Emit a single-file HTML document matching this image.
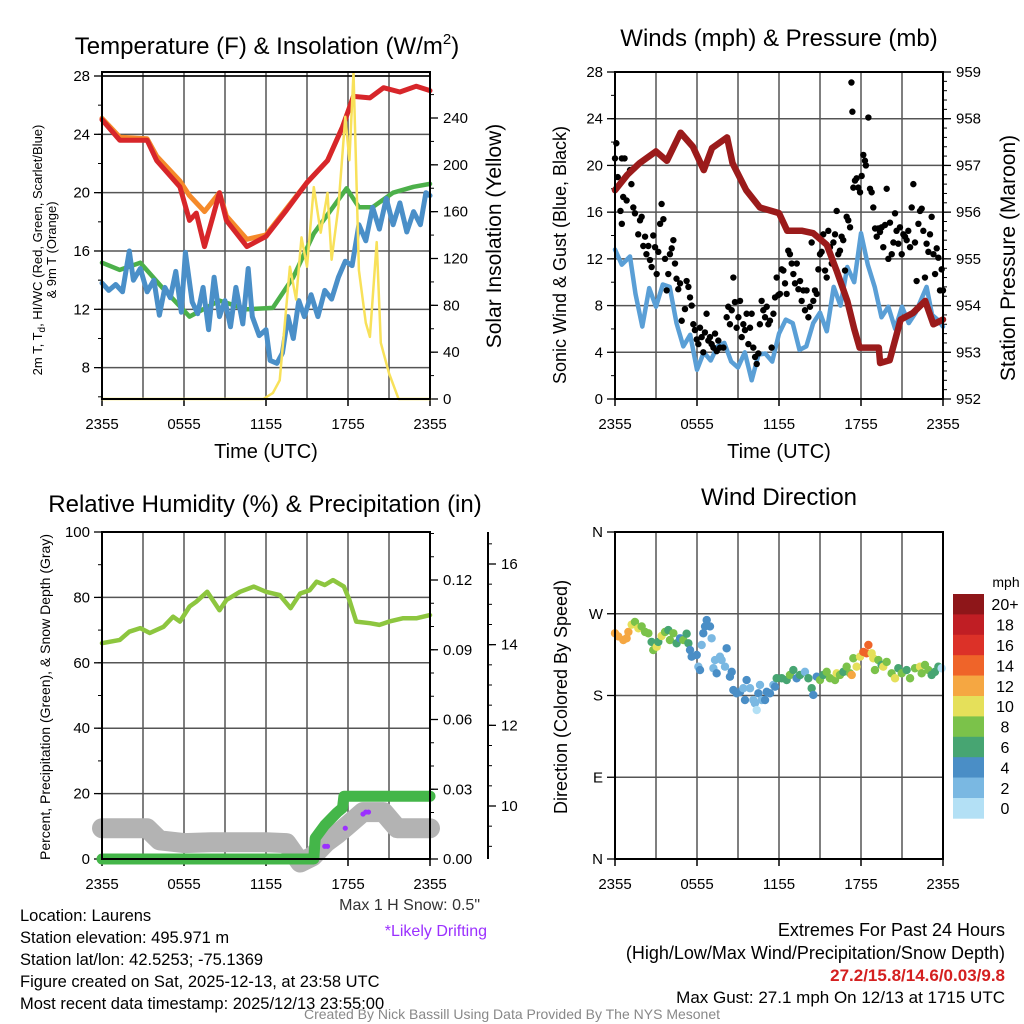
<!DOCTYPE html>
<html><head><meta charset="utf-8"><style>
body{margin:0;background:#fff;}
svg{display:block;font-family:"Liberation Sans",sans-serif;}
</style></head><body>
<svg id="chart" width="1024" height="1024" viewBox="0 0 1024 1024" xmlns="http://www.w3.org/2000/svg">
<rect x="0" y="0" width="1024" height="1024" fill="#fff"/>
<g id="layer"></g>
<text x="267" y="54" font-size="24" text-anchor="middle">Temperature (F) &amp; Insolation (W/m<tspan font-size="15" dy="-10">2</tspan><tspan dy="10">)</tspan></text>
<text x="779" y="46" font-size="24" text-anchor="middle">Winds (mph) &amp; Pressure (mb)</text>
<text x="265" y="512" font-size="24" text-anchor="middle">Relative Humidity (%) &amp; Precipitation (in)</text>
<text x="779" y="505" font-size="24" text-anchor="middle">Wind Direction</text>
<text x="266" y="458" font-size="20" text-anchor="middle">Time (UTC)</text>
<text x="779" y="458" font-size="20" text-anchor="middle">Time (UTC)</text>
<text transform="translate(42,250) rotate(-90)" font-size="13" text-anchor="middle">2m T, T<tspan font-size="10" dy="3">d</tspan><tspan dy="-3">, HI/WC (Red, Green, Scarlet/Blue)</tspan></text>
<text transform="translate(56,250) rotate(-90)" font-size="13" text-anchor="middle">&amp; 9m T (Orange)</text>
<text transform="translate(501,236) rotate(-90)" font-size="21" text-anchor="middle">Solar Insolation (Yellow)</text>
<text transform="translate(566,255) rotate(-90)" font-size="18" text-anchor="middle">Sonic Wind &amp; Gust (Blue, Black)</text>
<text transform="translate(1015,258) rotate(-90)" font-size="21" text-anchor="middle">Station Pressure (Maroon)</text>
<text transform="translate(50,697) rotate(-90)" font-size="14" text-anchor="middle">Percent, Precipitation (Green), &amp; Snow Depth (Gray)</text>
<text transform="translate(567,697) rotate(-90)" font-size="18" text-anchor="middle">Direction (Colored By Speed)</text>
<text x="1006" y="587" font-size="14" text-anchor="middle">mph</text>
<g font-size="16.5">
<text x="20" y="921">Location: Laurens</text>
<text x="20" y="943">Station elevation: 495.971 m</text>
<text x="20" y="965">Station lat/lon: 42.5253; -75.1369</text>
<text x="20" y="987">Figure created on Sat, 2025-12-13, at 23:58 UTC</text>
<text x="20" y="1009">Most recent data timestamp: 2025/12/13 23:55:00</text>
</g>
<text x="480" y="910" font-size="16" text-anchor="end" fill="#333">Max 1 H Snow: 0.5"</text>
<text x="487" y="936" font-size="16" text-anchor="end" fill="#9b30ff">*Likely Drifting</text>
<g font-size="18" text-anchor="end">
<text x="1005" y="936">Extremes For Past 24 Hours</text>
<text x="1005" y="959">(High/Low/Max Wind/Precipitation/Snow Depth)</text>
<text x="1005" y="981" fill="#d42020" font-weight="bold" font-size="17">27.2/15.8/14.6/0.03/9.8</text>
<text x="1005" y="1003" font-size="17">Max Gust: 27.1 mph On 12/13 at 1715 UTC</text>
</g>
<text x="512" y="1019" font-size="14" text-anchor="middle" fill="#888">Created By Nick Bassill Using Data Provided By The NYS Mesonet</text>
</svg>
<script>
// ---------- DATA ----------
const timeLabels=["2355","0555","1155","1755","2355"];
const tempTicks=[8,12,16,20,24,28];
const insolTicks=[0,40,80,120,160,200,240];
const windTicks=[0,4,8,12,16,20,24,28];
const presTicks=[952,953,954,955,956,957,958,959];
const rhTicks=[0,20,40,60,80,100];
const precipTicks=[0,0.03,0.06,0.09,0.12];
const precipLabels=["0.00","0.03","0.06","0.09","0.12"];
const snowTicks=[10,12,14,16];
const dirLabels=["N","E","S","W","N"];
const dirTicks=[0,90,180,270,360];
const speedBins=[0,2,4,6,8,10,12,14,16,18,20];
const speedLabels=["0","2","4","6","8","10","12","14","16","18","20+"];
const speedColors=["#b3e0f5","#7ab8e2","#4a8ec6","#47a572","#7bc24a","#e5e05a","#f5a742","#ef6429","#dc3128","#c01e24","#8e1619"];

const redT=[0,1.3,3.3,4,5.7,6.4,6.9,7.5,8.1,8.6,9.1,10.6,12,13.5,15,16.5,17.6,18.4,19.6,20.6,21.8,23,24];
const redV=[25,23.6,23.6,22.2,20.4,18.1,18.6,16.3,18.3,20,18.1,16.3,17,18.8,20.7,22.2,24.5,26.6,26.5,27.2,26.9,27.3,27];
const orangeT=[0,1.3,3.3,4,5.7,6.4,7.5,8.6,9.1,10.6,12,13.5,15,16.5,17.6,18.4];
const orangeV=[25.1,23.8,23.7,22.5,20.8,19.8,18.7,20,18.4,16.8,17.1,18.9,20.7,22.2,24.5,26.6];
const greenT=[0,1.3,2.8,4.4,6.4,8.6,10.6,12.5,14,15.5,16.9,17.9,18.8,19.8,21.3,22.8,24];
const greenV=[15.2,14.7,15.2,13.5,11.5,12.6,12,12.1,14.2,17.2,19,20.3,19,19,20,20.4,20.6];
const blueT=[0,0.5,1,1.5,2,2.3,2.8,3.3,3.8,4.2,4.6,5,5.4,5.8,6.1,6.6,7,7.4,7.8,8.2,8.6,9,9.4,9.8,10.3,10.7,11,11.5,12,12.3,12.8,13.2,13.6,14,14.4,14.8,15.3,15.8,16.3,16.8,17.3,17.8,18.3,18.8,19.3,19.8,20.3,20.8,21.3,21.8,22.3,22.8,23.3,23.7,24];
const blueV=[13.8,13.3,13.7,13.2,16,14,14.8,13.2,14,11.6,13.5,12.8,14.6,11.8,15.9,12.5,11.7,13.5,10.6,14.2,11.5,12.6,10.8,13.5,11,14.8,11.5,10.2,10.6,8.5,8.3,9,11.5,10,12.6,11.5,13,11.5,13.3,12.7,14.2,15.3,15,17.8,16.7,19,17.5,19.6,17.8,19.3,17.3,18.7,17.8,20,19.8];
const solarT=[0,11.8,12.5,13,13.75,14.2,14.6,15,15.5,16,16.5,16.8,17.3,17.8,18.1,18.4,18.8,19.3,19.6,20.1,20.4,21,21.7,24];
const solarV=[0,0,5,16,113,85,138,113,181,142,176,119,164,241,204,279,110,65,53,134,48,22,0,0];

const sustT=[0,0.5,1.1,1.5,2,2.5,3,3.5,4,4.5,5,5.5,6,6.5,7,7.5,8,8.5,9,9.5,10,10.5,11,11.5,12,12.5,13,13.5,14,14.5,15,15.5,16,16.5,17,17.5,18,18.5,19,19.5,20,20.5,21,21.5,22,22.4,22.8,23.2,23.6,24];
const sustV=[12.8,11.5,12.2,9,6.2,9.5,7.9,9.8,9.6,6.5,4.5,5.5,2.5,4,3.3,4.5,4.8,3.2,2.7,4,1.6,3.8,3.9,3.2,5.6,6.8,6.5,4.2,4.5,6.5,7.4,5.8,9.6,8,11.3,10,14.2,11.5,9.6,7,7.9,6,7.9,6.5,7.4,8.5,9.6,7.2,6.8,6.2];
const presT=[0,0.9,1.8,3,3.8,4.8,5.7,6.5,7.1,8.2,8.6,9.6,10.6,12,12.6,13.7,14.5,15.5,16.2,17,17.5,17.9,19.3,19.4,20.1,20.9,21.8,22.7,23.3,24];
const presV=[956.47,956.8,957.05,957.3,957.1,957.7,957.4,956.9,957.37,957.6,957.05,956.47,956.1,955.98,955.6,955.6,955.55,955.3,954.76,954.1,953.5,953.1,953.1,952.77,952.83,953.7,953.84,954.1,953.6,953.7];
const gustT=[0,0.1,0.2,0.5,0.7,0.4,0.5,0.6,0.85,1.1,1.2,1.34,1.46,1.7,1.83,1.95,2.07,2.2,2.3,2.44,2.56,2.8,2.68,2.93,3.05,3.17,3.3,3.41,3.54,3.66,3.78,3.9,4.02,4.15,4.27,4.39,4.5,4.63,4.76,4.88,5.12,5.24,5.37,5.49,5.61,5.73,5.85,5.98,6.1,6.22,6.34,6.46,6.58,6.7,6.83,6.95,7.07,7.2,7.32,7.44,7.56,7.68,7.93,8.17,8.29,8.41,8.54,8.66,8.78,8.9,9.03,9.15,9.27,9.39,9.51,9.63,9.76,9.88,10,10.12,10.25,10.37,10.49,10.6,10.73,10.85,10.98,11.1,11.22,11.34,11.46,11.59,11.71,11.83,11.95,12.07,12.2,12.32,12.44,12.56,12.68,12.8,12.93,13.05,13.17,13.3,13.42,13.54,13.66,13.78,13.9,14.02,14.15,14.27,14.39,14.51,14.63,14.76,14.88,15,15.12,15.24,15.37,15.49,15.61,15.73,15.86,15.98,16.1,16.22,16.34,16.46,16.58,16.7,16.83,16.95,17.07,17.2,17.3,17.37,17.44,17.56,17.68,17.8,17.93,18.05,18.17,18.29,18.36,18.54,18.66,18.78,18.9,19.03,19.15,19.27,19.39,19.51,19.63,19.76,19.88,20,20.12,20.25,20.37,20.49,20.6,20.73,20.85,20.98,21.1,21.22,21.34,21.46,21.59,21.71,21.83,21.95,22.07,22.2,22.32,22.44,22.56,22.68,22.8,22.93,23.05,23.17,23.3,23.42,23.54,23.66,23.78,23.9,24];
const gustV=[20.6,21.9,19,20.6,20.6,16.1,15,17.3,17,19.6,18.4,16.4,15.9,14.1,15.3,15.6,13.1,13.9,12.4,13.1,11.9,14,11.3,13,10.7,12.6,15,16.7,15.4,12,9.3,10.7,12.4,12.9,13.6,11.6,10.3,9.4,9.9,6.7,7.7,10.1,9.6,8.7,8,6.4,5.9,5.1,4.7,6.1,5.3,4,5.7,7.3,5,5.3,4.7,4.4,5.6,4.1,5,4.4,4.4,7,7.9,6.4,7.6,10.4,8.3,6.1,7,8.4,5.3,6.4,5.9,7.3,4.7,6.1,7.3,4.4,3.6,3,3.9,6.4,8.4,7.6,7,7.9,6.4,6.7,4.4,7.3,8.7,10.4,8.9,9,11.1,11,9.9,9,12.7,12.4,11.6,10.7,9.9,11.6,9.4,10.1,8.4,9.3,7.6,9.3,7,7.9,13.4,8.4,9.3,9,11.1,12.4,12.6,14.1,11,10.4,14.4,13,11.6,13.4,14.1,16.1,12.4,12.7,13.9,13.6,11,15.6,15.3,14.7,27.1,24.6,18.1,18.7,18.9,18.1,17.7,19.1,20.9,20.4,20,24.1,18,17.7,16.4,14.6,13.9,14.6,14.3,14.7,13,14.9,18,12,15.1,12.4,13.4,15.9,14.4,13.3,14.7,12.4,14.1,13.9,13.6,14.4,13,16.4,18.4,13.4,10.1,15,16.1,16.3,14.4,10.4,13.3,12.6,14.1,15.6,12.4,10.7,12.9,12.1,9.3,11.1,9.3];

const rhT=[0,1.3,2,2.8,3.5,4.5,5.2,5.7,6.4,6.9,7.7,8.1,8.6,9.1,10.1,11.1,12,13,13.8,14.5,15.2,15.7,16.3,16.9,17.7,18.1,18.6,19.6,20.3,21,22,23,24];
const rhV=[66,67,69.5,70.6,69.1,71,74.1,72.6,77.2,78.7,81.7,79.2,76.1,79.2,81.7,83.3,81.7,80.7,76.7,81.2,82.2,84.8,83.8,85.3,83.3,79.2,72.6,72.1,71.6,72.6,73.6,73.6,74.6];
const precipT=[0,15.5,15.6,16.3,17.2,17.6,17.7,24];
const precipV=[0,0,0.009,0.0146,0.02,0.022,0.027,0.027];
const snowT=[0,3.3,4.2,6,8,10,12,13.5,14.5,15.4,16.4,17.2,17.9,19.1,20.6,21.6,24];
const snowV=[9.45,9.45,9.15,9.08,9.1,9.1,9.1,9.08,8.6,8.75,9.1,9.3,9.5,9.85,9.85,9.45,9.45];
const driftT=[16.3,16.5,17.8,19.1,19.3,19.5];
const driftV=[9.0,9.0,9.45,9.8,9.85,9.85];

const dirT=[0,0.24,0.61,0.85,0.98,1.22,1.46,1.71,1.95,2.2,2.44,2.68,2.8,3.05,3.17,3.41,3.66,3.9,4.02,4.27,4.51,4.76,5,5.24,5.37,5.49,5.61,5.98,6.1,6.22,6.34,6.46,6.59,6.71,6.95,7.07,7.2,7.32,7.44,7.68,7.8,8.05,8.17,8.41,8.54,8.66,8.9,9.15,9.39,9.51,9.63,9.88,10.12,10.24,10.37,10.49,10.61,10.73,10.98,11.1,11.34,11.59,11.71,11.83,12.2,12.56,12.8,13.05,13.29,13.54,13.9,14.15,14.39,14.51,14.76,15,15.24,15.49,15.73,16.1,16.22,16.46,16.71,16.95,17.2,17.32,17.44,17.68,17.93,18.17,18.41,18.54,18.78,18.9,19.02,19.27,19.51,19.63,19.88,20.24,20.49,20.73,20.98,21.34,21.59,21.95,22.32,22.44,22.68,22.93,23.17,23.41,23.66,23.9];
const dirD=[248.5,245,241,243,250,258,261,254,256,250,248.5,239,230,233.7,239,245.5,250,252,241,248.5,237.5,243,241,248,237.5,230,222.7,224.6,211.7,208,235.6,248.5,256,263,256,243,210,219,204.4,222.7,219,211.7,232,200.7,206,186,182.4,184,188,175,197,188,175,171.4,164,182.4,191.6,175,175,184,182.4,191.6,189.7,199,199,197,202.6,208,199,202.6,206,199,188,180.6,200.7,197,202.6,206,199,197,204.4,202.6,206,211.7,204.4,202.6,221,211.7,222.7,228,226.5,235.6,226.5,221,208,219,213.6,211.7,217,204.4,199,210,204.4,208,199,210,211.7,204.4,213.6,208,202.6,206,211.7,210];
const dirS=[12,12,12,12,12,10,8,10,8,8,8,6,8,10,6,10,8,6,8,8,6,4,8,6,6,4,4,4,2,4,2,4,4,4,4,2,2,2,4,2,2,2,4,4,4,4,4,4,2,4,4,2,2,2,0,4,2,2,4,4,4,2,4,6,6,6,8,6,4,6,2,6,6,4,4,8,6,8,8,8,10,8,6,8,8,12,8,10,10,14,14,14,10,10,8,8,6,10,8,8,10,6,8,6,8,8,10,8,8,8,6,6,6];

// ---------- HELPERS ----------
const NS="http://www.w3.org/2000/svg";
const layer=document.getElementById('layer');
function mk(tag,attrs,parent){const e=document.createElementNS(NS,tag);for(const k in attrs)e.setAttribute(k,attrs[k]);(parent||layer).appendChild(e);return e;}
function lin(d0,d1,r0,r1){return v=>r0+(v-d0)*(r1-r0)/(d1-d0);}
function pathOf(T,V,sx,sy){return T.map((t,i)=>(i?'L':'M')+sx(t).toFixed(1)+','+sy(V[i]).toFixed(1)).join('');}

const P1={x0:102,x1:430,y0:72,y1:399}, P2={x0:615,x1:943,y0:72,y1:399};
const P3={x0:102,x1:430,y0:532,y1:859}, P4={x0:615,x1:943,y0:532,y1:859};

function timeAxis(P,name){
  const sx=lin(0,24,P.x0,P.x1);
  for(let h=3;h<24;h+=3){
    const g=mk('line',{x1:sx(h),x2:sx(h),y1:P.y0,y2:P.y1,stroke:'#555','stroke-width':1.5});
    
    
  }
  timeLabels.forEach((lab,i)=>{
    const h=i*6;
    const t=mk('line',{x1:sx(h),x2:sx(h),y1:P.y1,y2:P.y1+7,stroke:'#000','stroke-width':1.5});
    
    
    const tx=mk('text',{x:sx(h),y:P.y1+30,'font-size':15,'text-anchor':'middle'});
    tx.textContent=lab;
    
    
  });
  return sx;
}
function yAxis(P,ticks,labels,sy,side,name,grid,minorStep,axisX,fs){
  const x=axisX!==undefined?axisX:(side==='left'?P.x0:P.x1);
  const dir=side==='left'?-1:1;
  ticks.forEach((v,i)=>{
    const y=sy(v);
    if(grid){
      const g=mk('line',{x1:P.x0,x2:P.x1,y1:y,y2:y,stroke:'#555','stroke-width':1.5});
      
      
    }
    const t=mk('line',{x1:x,x2:x+dir*8,y1:y,y2:y,stroke:'#000','stroke-width':1.3});
    
    
    const tx=mk('text',{x:side==='left'?x-12:x+13,y:y+5,'font-size':fs||15,'text-anchor':side==='left'?'end':'start'});
    tx.textContent=labels[i];
    
    
  });
  if(minorStep){
    const lo=Math.min(...ticks), hi=Math.max(...ticks);
    for(let v=lo-minorStep*4;v<=hi+minorStep*4+1e-9;v+=minorStep){
      const y=sy(v); if(y<P.y0-0.5||y>P.y1+0.5) continue;
      const m=mk('line',{x1:x,x2:x+dir*4,y1:y,y2:y,stroke:'#000','stroke-width':1});
      
      
    }
  }
}
function frame(P,name){
  const r=mk('rect',{x:P.x0,y:P.y0,width:P.x1-P.x0,height:P.y1-P.y0,fill:'none',stroke:'#000','stroke-width':2});
  
  
}
function line(T,V,sx,sy,color,w,name){
  const p=mk('path',{d:pathOf(T,V,sx,sy),fill:'none',stroke:color,'stroke-width':w,'stroke-linejoin':'round','stroke-linecap':'round'});
  
  
}

// ---------- PANEL 1 ----------
{
  const sx=timeAxis(P1,'temp');
  const syL=lin(5.85,28,P1.y1,76), syR=lin(0,240,P1.y1,118);
  yAxis(P1,tempTicks,tempTicks.map(String),syL,'left','temp-left',true,2);
  yAxis(P1,insolTicks,insolTicks.map(String),syR,'right','insolation-right',false,20);
  const top=mk('line',{x1:P1.x0,x2:P1.x1,y1:76,y2:76,stroke:'#000','stroke-width':1.5});
  
  
  line(orangeT,orangeV,sx,syL,'#f58a2a',5,'temp-9m-orange-line');
  line(redT,redV,sx,syL,'#d7262a',5,'temp-2m-red-line');
  line(greenT,greenV,sx,syL,'#4cb04a',4.5,'dewpoint-green-line');
  line(blueT,blueV,sx,syL,'#4a8fc8',5,'windchill-blue-line');
  line(solarT,solarV,sx,syR,'#f8e15a',2.5,'solar-insolation-yellow-line');
  frame(P1,'temp');
}
// ---------- PANEL 2 ----------
{
  const sx=timeAxis(P2,'wind');
  const syL=lin(0,28,P2.y1,P2.y0), syR=lin(952,959,P2.y1,P2.y0);
  yAxis(P2,windTicks,windTicks.map(String),syL,'left','wind-left',true,2);
  yAxis(P2,presTicks,presTicks.map(String),syR,'right','pressure-right',false,0.2);
  line(sustT,sustV,sx,syL,'#5a9fd6',4.5,'sustained-wind-line');
  gustT.forEach((t,i)=>{
    const c=mk('circle',{cx:sx(t),cy:syL(gustV[i]),r:3.2,fill:'#000'});
    
    
  });
  line(presT,presV,sx,syR,'#9b1b1b',6.5,'pressure-maroon-line');
  frame(P2,'wind');
}
// ---------- PANEL 3 ----------
{
  const sx=timeAxis(P3,'rh');
  const syL=lin(0,100,P3.y1,P3.y0), syR=lin(0,0.12,P3.y1,580), syS=lin(10,16,806,564);
  yAxis(P3,rhTicks,rhTicks.map(String),syL,'left','rh-left',true,10);
  yAxis(P3,precipTicks,precipLabels,syR,'right','precip-right',false,0.01);
  const ax=mk('line',{x1:488,x2:488,y1:532,y2:859,stroke:'#000','stroke-width':2});
  
  
  yAxis(P3,snowTicks,snowTicks.map(String),syS,'right','snow-right',false,0.5,488);
  line(snowT,snowV,sx,syS,'#b3b3b3',20,'snow-depth-gray-line');
  line(rhT,rhV,sx,syL,'#8dc63f',4.5,'relative-humidity-line');
  line(precipT,precipV,sx,syR,'#44b649',11,'precipitation-green-line');
  driftT.forEach((t,i)=>{
    const c=mk('circle',{cx:sx(t),cy:syS(driftV[i]),r:2.6,fill:'#9b30ff'});
    
    
  });
  frame(P3,'rh');
}
// ---------- PANEL 4 ----------
{
  const sx=timeAxis(P4,'dir');
  const sy=lin(0,360,P4.y1,P4.y0);
  yAxis(P4,dirTicks,dirLabels,sy,'left','dir-left',true,0);
  function colorFor(s){let k=0;speedBins.forEach((b,i)=>{if(s>=b)k=i;});return speedColors[k];}
  dirT.forEach((t,i)=>{
    const c=mk('circle',{cx:sx(t),cy:sy(dirD[i]),r:4.2,fill:colorFor(dirS[i])});
    
    
  });
  frame(P4,'dir');
  const bh=20.4, bx=953, btop=594;
  speedColors.slice().reverse().forEach((col,j)=>{
    const r=mk('rect',{x:bx,y:btop+j*bh,width:31,height:bh+0.3,fill:col});
    
    
    const tx=mk('text',{x:1005,y:btop+j*bh+bh/2+6,'font-size':16,'text-anchor':'middle'});
    tx.textContent=speedLabels[speedLabels.length-1-j];
    
    
  });
}
</script>
</body></html>
